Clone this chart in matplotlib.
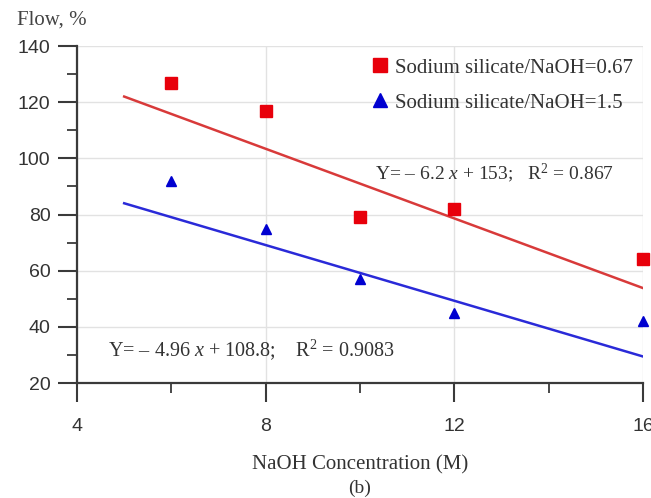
import matplotlib
matplotlib.use("Agg")
import matplotlib.pyplot as plt
from matplotlib.ticker import MultipleLocator
from matplotlib.lines import Line2D
import numpy as np

# Data
naoh = [6, 8, 10, 12, 16]
flow_067 = [127, 117, 79, 82, 64]
flow_15 = [92, 75, 57, 45, 42]
fit_x = [5, 16]
fit_067 = (-6.2, 153.0)
fit_15 = (-4.96, 108.8)
label_067 = "Sodium silicate/NaOH=0.67"
label_15 = "Sodium silicate/NaOH=1.5"
eq_067 = "Y= \u2013 6.2 $\\it{x}$ + 153;   R$^2$ = 0.867"
eq_15 = "Y= \u2013 4.96 $\\it{x}$ + 108.8;    R$^2$ = 0.9083"

plt.rcParams['mathtext.fontset'] = 'custom'
plt.rcParams['mathtext.rm'] = 'Liberation Serif'
plt.rcParams['mathtext.it'] = 'Liberation Serif:italic'

SERIF = 'Liberation Serif'
SANS = 'Liberation Sans'
red = '#e8000b'
blue = '#0000d0'
redline = '#d83a3a'
blueline = '#2a2ad8'
axc = '#3a3a3a'

fig = plt.figure(figsize=(6.51, 4.98), dpi=100)
ax = fig.add_axes([77/651, 1-383/498, (643-77)/651, (383-46)/498])

ax.set_xlim(4, 16)
ax.set_ylim(20, 140)
ax.xaxis.set_major_locator(MultipleLocator(4))
ax.xaxis.set_minor_locator(MultipleLocator(2))
ax.yaxis.set_major_locator(MultipleLocator(20))
ax.yaxis.set_minor_locator(MultipleLocator(10))

ax.grid(True, which='major', color='#e2e2e2', linewidth=1.0)
ax.set_axisbelow(True)
for s in ['top', 'right']:
    ax.spines[s].set_visible(False)
for s in ['left', 'bottom']:
    ax.spines[s].set_color(axc)
    ax.spines[s].set_linewidth(1.6)

ax.tick_params(which='major', direction='out', length=14, width=1.5, color=axc)
ax.tick_params(which='minor', direction='out', length=7, width=1.3, color=axc)
ax.tick_params(axis='y', which='major', pad=5)
ax.tick_params(axis='x', which='major', pad=11)
for lab in ax.get_xticklabels() + ax.get_yticklabels():
    lab.set_fontfamily(SANS)
    lab.set_fontsize(14)
    lab.set_color('#333333')

fx = np.array(fit_x, dtype=float)
ax.plot(fx, fit_067[0]*fx + fit_067[1], color=redline, lw=1.8, zorder=3)
ax.plot(fx, fit_15[0]*fx + fit_15[1], color=blueline, lw=1.8, zorder=3)
ax.plot(naoh, flow_067, 's', color=red, markersize=8, zorder=4, clip_on=False)
ax.plot(naoh, flow_15, '^', color=blue, markersize=6.5, zorder=4, clip_on=False)

handles = [Line2D([], [], ls='none', marker='s', color=red, markersize=10),
           Line2D([], [], ls='none', marker='^', color=blue, markersize=10)]
leg = ax.legend(handles, [label_067, label_15], loc='upper left',
                bbox_to_anchor=(370/651, 1-58/498), bbox_transform=fig.transFigure,
                frameon=False, prop={'family': SERIF, 'size': 15},
                handletextpad=0.2, labelspacing=0.75, handlelength=1.0,
                borderpad=0, borderaxespad=0)
for t in leg.get_texts():
    t.set_color('#333333')

fig.text(375/651, 1-173/498, eq_067, family=SERIF, fontsize=14,
         color='#333333', va='center', ha='left')
fig.text(108/651, 1-350/498, eq_15, family=SERIF, fontsize=14.5,
         color='#333333', va='center', ha='left')

fig.text(17/651, 1-20/498, "Flow, %", family=SERIF, fontsize=15,
         color='#444444', va='center', ha='left')
fig.text(360/651, 1-465/498, "NaOH Concentration (M)", family=SERIF,
         fontsize=15, color='#333333', va='center', ha='center')
fig.text(360/651, 1-488/498, "(b)", family=SERIF, fontsize=14,
         color='#333333', va='center', ha='center')

fig.savefig("out.png", dpi=100)
